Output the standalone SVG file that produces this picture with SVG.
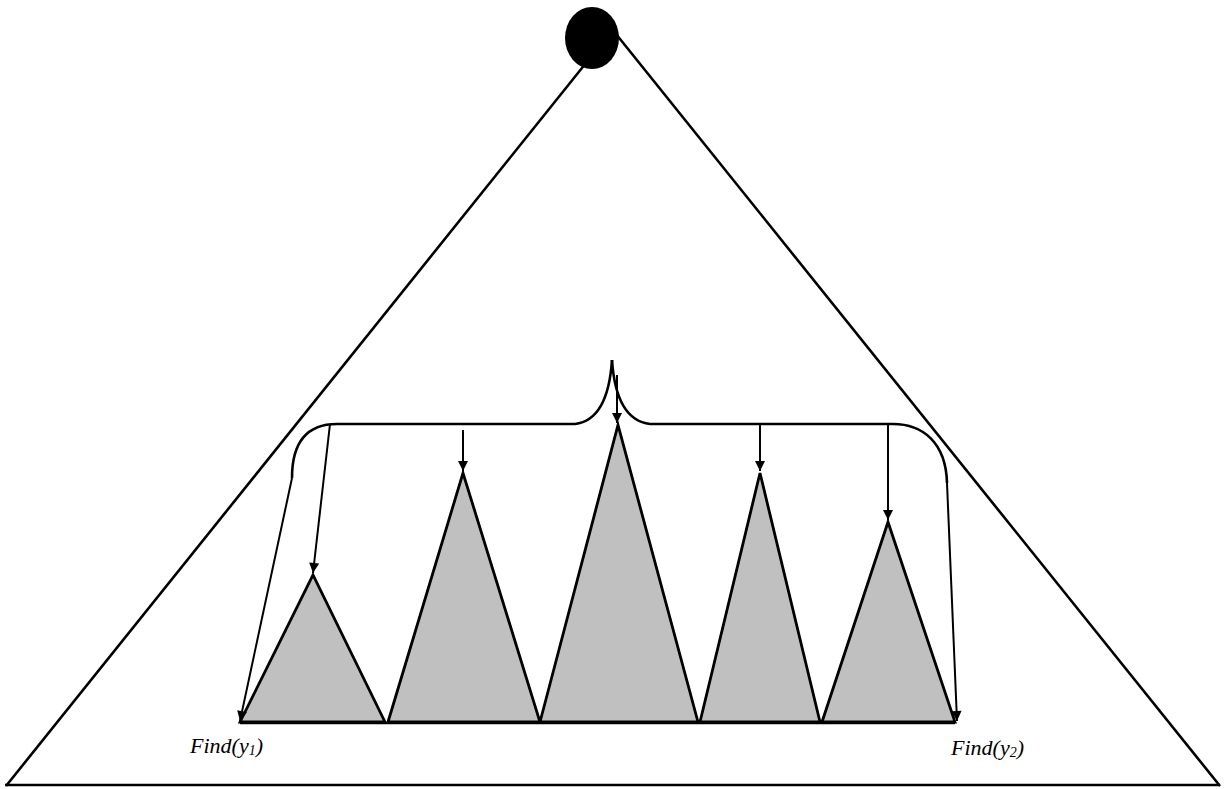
<svg xmlns="http://www.w3.org/2000/svg" width="1225" height="789" viewBox="0 0 1225 789">
<style>
.ln{fill:none;stroke:#000;stroke-width:2.6;stroke-linejoin:miter}
.tri{fill:#c0c0c0;stroke:#000;stroke-width:2.8;stroke-linejoin:miter}
.ar{fill:none;stroke:#000;stroke-width:2;marker-end:url(#ah)}
.lbl{font-family:"Liberation Serif",serif;font-style:italic;font-size:22px;fill:#000}
</style>
<defs>
<marker id="ah" viewBox="0 0 10 10" refX="10" refY="5" markerWidth="6" markerHeight="5" orient="auto" markerUnits="strokeWidth">
<path d="M0,0 L10,5 L0,10 z" fill="#000"/>
</marker>
</defs>
<g id="outer">
<line class="ln" x1="590" y1="58" x2="6" y2="786" stroke-width="3"/>
<line class="ln" x1="616" y1="34" x2="1220" y2="786" stroke-width="3"/>
<line class="ln" x1="5" y1="785" x2="1220" y2="785" stroke-width="3.2"/>
</g>
<g id="root"><ellipse cx="592" cy="38" rx="27" ry="31" fill="#000"/></g>
<g id="t1"><polygon class="tri" points="240,722 313,575 385,722"/></g>
<g id="t2"><polygon class="tri" points="388,722 463,473 540,722"/></g>
<g id="t3"><polygon class="tri" points="540,722 618,425 698,722"/></g>
<g id="t4"><polygon class="tri" points="700,722 760,473 820,722"/></g>
<g id="t5"><polygon class="tri" points="822,722 888,522 955,722"/></g>
<g id="base"><line class="ln" x1="240" y1="723" x2="955" y2="723" stroke-width="3"/></g>
<g id="connectors">
<path class="ln" d="M612,360 Q608,420 575,424 L337,424 C305,424 292,445 292,478"/>
<path class="ar" d="M292,478 L240,721"/>
<path class="ln" d="M612,360 Q616,420 650,424 L893,424 C922,424 946,442 947,483"/>
<path class="ar" d="M947,483 L957,721"/>
<path class="ar" d="M330,424 L313,573"/>
<path class="ar" d="M463,430 L463,471"/>
<path class="ar" d="M617,375 L617,423"/>
<path class="ar" d="M760,424 L760,471"/>
<path class="ar" d="M888,424 L888,520"/>
</g>
<g id="labels">
<text class="lbl" x="190" y="753">Find(y<tspan font-size="14" dy="2">1</tspan><tspan dy="-2">)</tspan></text>
<text class="lbl" x="951" y="755">Find(y<tspan font-size="14" dy="2">2</tspan><tspan dy="-2">)</tspan></text>
</g>
</svg>
